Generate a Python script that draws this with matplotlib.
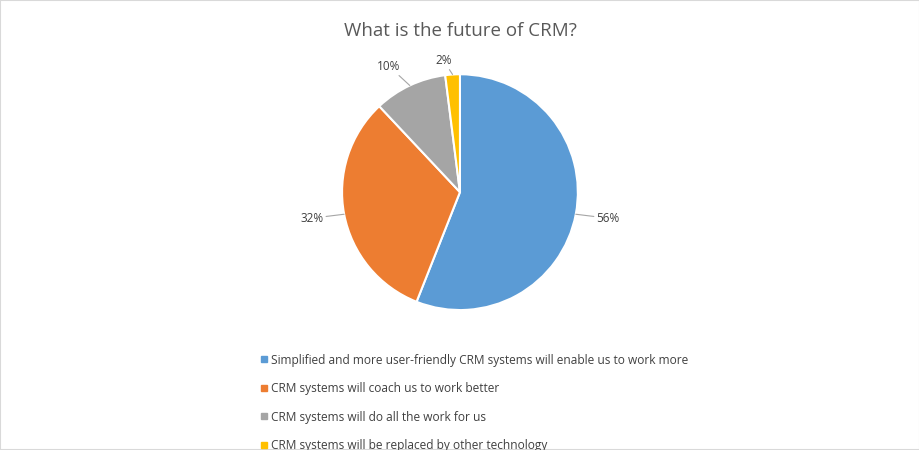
import numpy as np
import matplotlib.pyplot as plt
from matplotlib.patches import Rectangle
from matplotlib.lines import Line2D

labels = [
    "Simplified and more user-friendly CRM systems will enable us to work more",
    "CRM systems will coach us to work better",
    "CRM systems will do all the work for us",
    "CRM systems will be replaced by other technology",
]
values = [56, 32, 10, 2]
colors = ["#5B9BD5", "#ED7D31", "#A5A5A5", "#FFC000"]

plt.rcParams["font.family"] = "Open Sans"
fig = plt.figure(figsize=(9.2, 4.5), dpi=100)
fig.patches.append(Rectangle((0, 0), 1, 1, transform=fig.transFigure,
                             fill=False, edgecolor="#D9D9D9", lw=1.5))

ax = fig.add_axes([0.5 - 0.1283, 0.573 - 0.262, 0.2565, 0.524])
wedges, _ = ax.pie(values, colors=colors, startangle=90, counterclock=False,
                   wedgeprops=dict(edgecolor="white", linewidth=1.5))
ax.set_aspect("equal")
ax.set_xlim(-1, 1)
ax.set_ylim(-1, 1)

for w, v in zip(wedges, values):
    ang = np.deg2rad((w.theta1 + w.theta2) / 2)
    x, y = np.cos(ang), np.sin(ang)
    r = 1.18 if v > 5 else 1.12
    ax.annotate(f"{v}%", xy=(x, y), xytext=(x * r, y * r),
                ha="left" if x > 0 else "right", va="center",
                fontsize=8.5, color="#404040", annotation_clip=False,
                arrowprops=dict(arrowstyle="-", color="#A6A6A6", lw=0.8,
                                shrinkA=0, shrinkB=0))

fig.text(0.5, 0.93, "What is the future of CRM?", ha="center", va="center",
         fontsize=13.5, color="#595959")

handles = [Line2D([], [], marker="s", linestyle="", color=c, markersize=5)
           for c in colors]
fig.legend(handles, labels, loc="upper left", bbox_to_anchor=(0.275, 0.225),
           frameon=False, fontsize=8.6, labelcolor="#404040",
           handletextpad=0.1, handlelength=1.0, labelspacing=1.3,
           borderaxespad=0)

fig.savefig("out.png", dpi=100)
